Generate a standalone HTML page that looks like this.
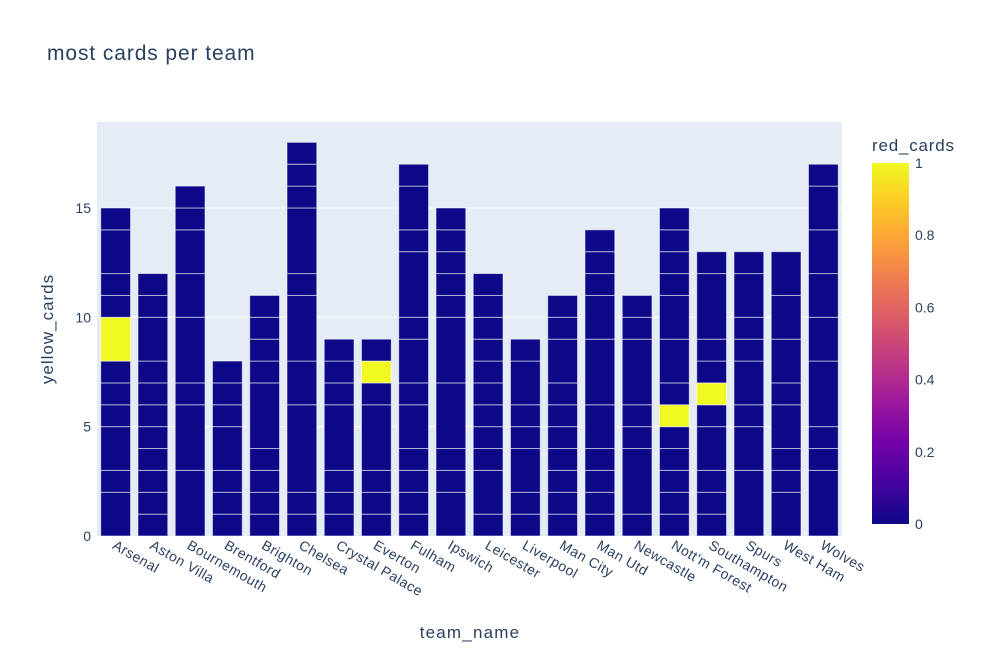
<!DOCTYPE html>
<html><head><meta charset="utf-8">
<style>
html,body{margin:0;padding:0;background:#fff;}
svg{display:block;font-family:"Liberation Sans",Arial,sans-serif;}
</style></head>
<body>
<svg id="chart" width="982" height="653" viewBox="0 0 982 653">
<defs>
<linearGradient id="plasma" x1="0" y1="1" x2="0" y2="0">
<stop offset="0" stop-color="#0d0887"/>
<stop offset="0.111" stop-color="#46039f"/>
<stop offset="0.222" stop-color="#7201a8"/>
<stop offset="0.333" stop-color="#9c179e"/>
<stop offset="0.444" stop-color="#bd3786"/>
<stop offset="0.556" stop-color="#d8576b"/>
<stop offset="0.667" stop-color="#ed7953"/>
<stop offset="0.778" stop-color="#fb9f3a"/>
<stop offset="0.889" stop-color="#fdca26"/>
<stop offset="1" stop-color="#f0f921"/>
</linearGradient>
</defs>
<text x="47" y="60" font-size="21" letter-spacing="0.9" fill="#2a3f5f">most cards per team</text>
<rect x="97" y="122" width="745" height="414" fill="#e5ecf6"/>
<g id="grid"></g>
<g id="bars"></g>
<g id="xlabels"></g>
<g id="ylabels"></g>
<text x="0" y="0" transform="translate(53,329) rotate(-90)" text-anchor="middle" font-size="17" letter-spacing="1" fill="#2a3f5f">yellow_cards</text>
<text x="470" y="638" text-anchor="middle" font-size="17" letter-spacing="1.2" fill="#2a3f5f">team_name</text>
<text x="872" y="151" font-size="17" letter-spacing="0.8" fill="#2a3f5f">red_cards</text>
<rect x="872" y="163" width="37" height="361" fill="url(#plasma)"/>
<g id="cbticks"></g>
</svg>
<script>
const teams = ["Arsenal","Aston Villa","Bournemouth","Brentford","Brighton","Chelsea","Crystal Palace","Everton","Fulham","Ipswich","Leicester","Liverpool","Man City","Man Utd","Newcastle","Nott'm Forest","Southampton","Spurs","West Ham","Wolves"];
const segments = [
 [2,1,2,1,1,1,2,1,1,2,1],
 [1,1,1,1,1,1,1,1,2,1,1],
 [3,3,1,3,2,2,1,1],
 [1,1,1,2,1,1,1],
 [1,1,1,1,3,1,1,1,1],
 [1,1,4,2,3,1,3,1,1,1],
 [1,1,1,3,1,1,1],
 [1,1,1,3,1,1,1],
 [1,1,1,1,2,1,2,1,3,1,2,1],
 [2,1,1,3,3,1,1,1,1,1],
 [1,2,1,1,1,1,1,1,1,1,1],
 [1,1,2,1,1,2,1],
 [1,1,1,1,1,1,1,2,1,1],
 [1,1,1,1,2,3,2,1,1,1],
 [1,3,1,1,3,1,1],
 [1,1,1,1,1,1,1,2,2,1,1,1,1],
 [1,1,1,2,1,1,1,1,3,1],
 [3,2,1,2,1,1,2,1],
 [2,1,1,2,1,2,2,2],
 [3,1,1,3,2,2,2,2,1]
];
// index of the segment with red_cards = 1 (-1 = none)
const redSegment = [6,-1,-1,-1,-1,-1,-1,5,-1,-1,-1,-1,-1,-1,-1,5,5,-1,-1,-1];
const yTicks = [0,5,10,15];
const cbTicks = [0,0.2,0.4,0.6,0.8,1];

const NS="http://www.w3.org/2000/svg";
const X0=97,X1=842,Y0=536,PERUNIT=21.87;
const band=(X1-X0)/teams.length, barW=band*0.8;
const yS=v=>Y0-v*PERUNIT;
const xS=i=>X0+band*i+band/2;
function mk(tag,attrs,parent){const e=document.createElementNS(NS,tag);for(const k in attrs)e.setAttribute(k,attrs[k]);parent.appendChild(e);return e;}
const grid=document.getElementById('grid'),bars=document.getElementById('bars'),xl=document.getElementById('xlabels'),yl=document.getElementById('ylabels'),cb=document.getElementById('cbticks');
yTicks.forEach(t=>{
  if(t>0){const l=mk('line',{x1:X0,x2:X1,y1:yS(t),y2:yS(t),stroke:'#fff','stroke-width':1},grid);
  
  }
  const tx=mk('text',{x:X0-6,y:yS(t)+5,'text-anchor':'end','font-size':14,fill:'#2a3f5f'},yl);
  tx.textContent=t;
  
  
});
teams.forEach((name,i)=>{
  let acc=0;
  segments[i].forEach((s,j)=>{
    const r=mk('rect',{x:xS(i)-barW/2,y:yS(acc+s),width:barW,height:s*PERUNIT,fill:(redSegment[i]===j?'#f0f921':'#0d0887'),stroke:'#fff','stroke-opacity':0.55,'stroke-width':1},bars);
    
    
    acc+=s;
  });
  const t=mk('text',{x:0,y:0,transform:`translate(${xS(i)-4},${Y0+12}) rotate(30)`,'font-size':14,'letter-spacing':0.5,fill:'#2a3f5f'},xl);
  t.textContent=name;
  
  
});
cbTicks.forEach(v=>{
  const y=524-v*361;
  const t=mk('text',{x:915,y:y+5,'font-size':14,fill:'#2a3f5f'},cb);
  t.textContent=v;
  
  
});
</script>
</body></html>
